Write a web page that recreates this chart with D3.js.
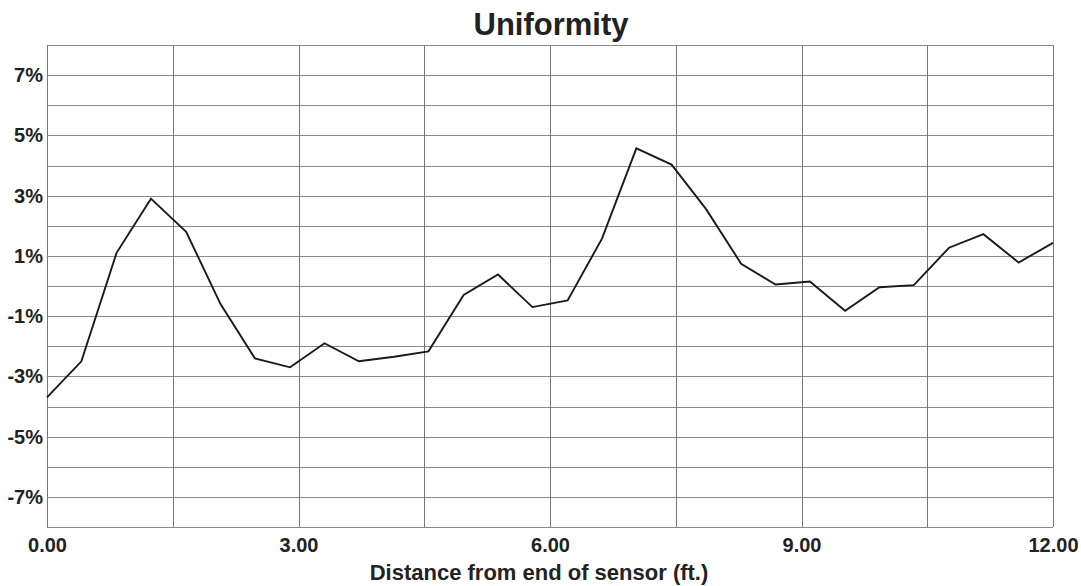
<!DOCTYPE html>
<html>
<head>
<meta charset="utf-8">
<script src="https://cdn.jsdelivr.net/npm/d3@7"></script>
<style>
  html, body { margin: 0; padding: 0; background: #fff; }
  svg { display: block; }
  text { font-family: "Liberation Sans", Arial, sans-serif; font-weight: bold; fill: #222; }
</style>
</head>
<body>
<svg id="chart" width="1081" height="586"></svg>
<script>
// Distance along the sensor (ft) for each measurement
const distance = [0, 0.41, 0.83, 1.24, 1.66, 2.07, 2.48, 2.90, 3.31, 3.72,
                  4.14, 4.55, 4.97, 5.38, 5.79, 6.21, 6.62, 7.03, 7.45, 7.86,
                  8.28, 8.69, 9.10, 9.52, 9.93, 10.34, 10.76, 11.17, 11.59, 12.00];

// Deviation from mean output (%)
const deviation = [-3.7, -2.5, 1.1, 2.9, 1.8, -0.6, -2.4, -2.7, -1.9, -2.5,
                   -2.35, -2.17, -0.3, 0.38, -0.7, -0.48, 1.57, 4.57, 4.03, 2.56,
                   0.74, 0.05, 0.15, -0.82, -0.04, 0.03, 1.27, 1.72, 0.78, 1.43];

const xTicks = [0, 3, 6, 9, 12];
const xGrid = [0, 1.5, 3, 4.5, 6, 7.5, 9, 10.5, 12];
const yTicks = [7, 5, 3, 1, -1, -3, -5, -7];
const yGrid = [-8, -7, -6, -5, -4, -3, -2, -1, 0, 1, 2, 3, 4, 5, 6, 7, 8];

const titleText = "Uniformity";
const xTitle = "Distance from end of sensor (ft.)";

const margin = { left: 47, right: 28, top: 45, bottom: 59 };
const W = 1081, H = 586;

const svg = d3.select("#chart");
const x = d3.scaleLinear().domain([0, 12]).range([margin.left, W - margin.right]);
const y = d3.scaleLinear().domain([-8, 8]).range([H - margin.bottom, margin.top]);

// grid
const grid = svg.append("g").attr("stroke", "#8a8a8a").attr("stroke-width", 1).attr("shape-rendering", "crispEdges");
grid.selectAll("line.h").data(yGrid).join("line").attr("class", "h")
  .attr("x1", x(0)).attr("x2", x(12))
  .attr("y1", d => Math.round(y(d)) + 0.5).attr("y2", d => Math.round(y(d)) + 0.5);
grid.selectAll("line.v").data(xGrid).join("line").attr("class", "v")
  .attr("stroke", "#777")
  .attr("y1", y(8)).attr("y2", y(-8))
  .attr("x1", d => Math.round(x(d)) + 0.5).attr("x2", d => Math.round(x(d)) + 0.5);

// y axis labels
const yAxis = d3.axisLeft(y).tickValues(yTicks).tickSize(0).tickPadding(4).tickFormat(d => d + "%");
svg.append("g").attr("transform", `translate(${x(0)},0)`).call(yAxis)
  .call(g => g.select(".domain").remove())
  .call(g => g.selectAll("text").attr("font-size", 20).attr("font-family", null).attr("fill", "#222"));

// x axis labels
const xAxis = d3.axisBottom(x).tickValues(xTicks).tickSize(0).tickPadding(11).tickFormat(d3.format(".2f"));
svg.append("g").attr("transform", `translate(0,${y(-8)})`).call(xAxis)
  .call(g => g.select(".domain").remove())
  .call(g => g.selectAll("text").attr("font-size", 20).attr("font-family", null).attr("fill", "#222"));

// data line
const line = d3.line().x((d, i) => x(distance[i])).y(d => y(d));
svg.append("path").datum(deviation)
  .attr("d", line)
  .attr("fill", "none")
  .attr("stroke", "#1a1a1a")
  .attr("stroke-width", 1.9)
  .attr("stroke-linejoin", "miter");

// titles
svg.append("text").attr("x", 551).attr("y", 35).attr("text-anchor", "middle")
  .attr("font-size", 31).text(titleText);
svg.append("text").attr("x", 539).attr("y", 580).attr("text-anchor", "middle")
  .attr("font-size", 22).text(xTitle);
</script>
</body>
</html>
